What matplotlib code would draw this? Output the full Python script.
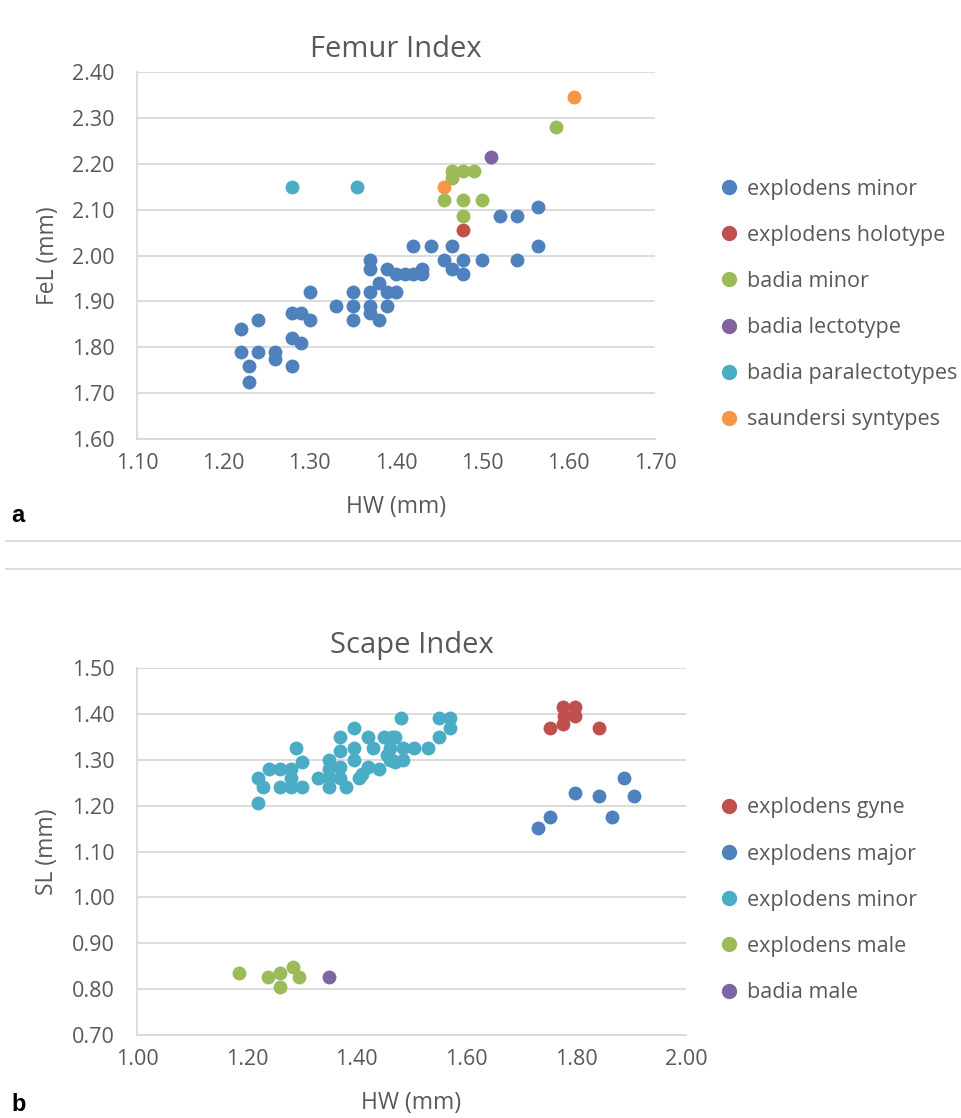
import numpy as np
import matplotlib.pyplot as plt
from matplotlib.lines import Line2D

# ---- Femur Index data (HW, FeL) ----
fem_minor_hw = [1.22, 1.24, 1.22, 1.24, 1.23, 1.23, 1.26, 1.26, 1.28, 1.28, 1.29, 1.28, 1.29, 1.30,
                1.30, 1.33, 1.35, 1.35, 1.35, 1.37, 1.37, 1.37, 1.37, 1.37, 1.38, 1.38, 1.39, 1.39,
                1.39, 1.40, 1.40, 1.41, 1.42, 1.43, 1.43, 1.42, 1.44, 1.465, 1.455, 1.477, 1.50,
                1.465, 1.477, 1.52, 1.54, 1.564, 1.564, 1.54]
fem_minor_fel = [1.84, 1.86, 1.79, 1.79, 1.76, 1.725, 1.79, 1.775, 1.76, 1.82, 1.81, 1.875, 1.875, 1.86,
                 1.92, 1.89, 1.92, 1.89, 1.86, 1.99, 1.97, 1.92, 1.89, 1.875, 1.94, 1.86, 1.97, 1.92,
                 1.89, 1.96, 1.92, 1.96, 1.96, 1.96, 1.97, 2.02, 2.02, 2.02, 1.99, 1.99, 1.99,
                 1.97, 1.96, 2.086, 2.086, 2.105, 2.02, 1.99]
fem_holo_hw = [1.477]
fem_holo_fel = [2.055]
fem_badia_hw = [1.585, 1.465, 1.477, 1.49, 1.465, 1.455, 1.477, 1.50, 1.477]
fem_badia_fel = [2.28, 2.185, 2.185, 2.185, 2.17, 2.12, 2.12, 2.12, 2.086]
fem_lecto_hw = [1.51]
fem_lecto_fel = [2.215]
fem_para_hw = [1.28, 1.355]
fem_para_fel = [2.15, 2.15]
fem_saund_hw = [1.606, 1.455]
fem_saund_fel = [2.345, 2.15]

# ---- Scape Index data (HW, SL) ----
sc_gyne_hw = [1.775, 1.798, 1.777, 1.798, 1.775, 1.752, 1.842]
sc_gyne_sl = [1.415, 1.415, 1.395, 1.395, 1.378, 1.37, 1.37]
sc_major_hw = [1.73, 1.752, 1.798, 1.842, 1.865, 1.887, 1.906]
sc_major_sl = [1.152, 1.175, 1.227, 1.22, 1.175, 1.26, 1.22]
sc_minor_hw = [1.22, 1.22, 1.23, 1.24, 1.26, 1.28, 1.26, 1.28, 1.28, 1.29, 1.30, 1.30, 1.33,
               1.35, 1.35, 1.35, 1.35, 1.37, 1.37, 1.37, 1.37, 1.38, 1.395, 1.395, 1.395, 1.405,
               1.42, 1.43, 1.42, 1.44, 1.45, 1.465, 1.465, 1.48, 1.55, 1.57, 1.57, 1.55, 1.53,
               1.505, 1.47, 1.485, 1.485, 1.47, 1.46, 1.46, 1.41, 1.455]
sc_minor_sl = [1.205, 1.26, 1.24, 1.28, 1.28, 1.28, 1.24, 1.24, 1.26, 1.325, 1.295, 1.24, 1.26,
               1.30, 1.28, 1.26, 1.24, 1.35, 1.32, 1.285, 1.26, 1.24, 1.37, 1.325, 1.30, 1.26,
               1.35, 1.325, 1.285, 1.28, 1.35, 1.35, 1.30, 1.39, 1.39, 1.39, 1.37, 1.35, 1.325,
               1.325, 1.35, 1.325, 1.30, 1.295, 1.325, 1.30, 1.27, 1.31]
sc_male_hw = [1.186, 1.238, 1.26, 1.284, 1.295, 1.26]
sc_male_sl = [0.836, 0.826, 0.836, 0.849, 0.826, 0.804]
sc_bmale_hw = [1.35]
sc_bmale_sl = [0.826]

BLUE = '#4F81BD'
RED = '#C0504D'
GREEN = '#9BBB59'
PURPLE = '#8064A2'
AQUA = '#4BACC6'
ORANGE = '#F79646'
GRID = '#D9D9D9'
TXT = '#595959'

plt.rcParams['font.family'] = ['Open Sans', 'DejaVu Sans']

fig = plt.figure(figsize=(9.61, 11.18), dpi=100)

def style_axes(ax, xlim, ylim, xticks, yticks, xlabel, ylabel, title):
    ax.set_xlim(*xlim)
    ax.set_ylim(*ylim)
    ax.set_xticks(xticks)
    ax.set_yticks(yticks)
    ax.set_xticklabels(['%.2f' % v for v in xticks], fontsize=15.5, color=TXT)
    ax.set_yticklabels(['%.2f' % v for v in yticks], fontsize=15.5, color=TXT)
    ax.tick_params(length=0)
    ax.tick_params(axis='y', pad=16)
    ax.tick_params(axis='x', pad=10)
    ax.yaxis.grid(True, color=GRID, lw=1.3)
    ax.set_axisbelow(True)
    for s in ['top', 'right']:
        ax.spines[s].set_visible(False)
    for s in ['left', 'bottom']:
        ax.spines[s].set_color(GRID)
        ax.spines[s].set_linewidth(1.3)
    ax.set_xlabel(xlabel, fontsize=16.5, color=TXT, labelpad=15)
    ax.set_ylabel(ylabel, fontsize=16.5, color=TXT, labelpad=9)
    ax.set_title(title, fontsize=21, color=TXT, pad=11)

def legend(ax, names, colors, y0):
    handles = [Line2D([], [], marker='o', ls='', color=c, markersize=10) for c in colors]
    fig.legend(handles, names, loc='upper left', bbox_to_anchor=(0.738, y0), frameon=False,
               fontsize=15.5, labelcolor=TXT, handletextpad=0.35, labelspacing=1.17,
               borderaxespad=0, handlelength=1.0)

S = 100

ax1 = fig.add_axes([0.1426, 0.6073, 0.539, 0.3283])
ax1.scatter(fem_minor_hw, fem_minor_fel, s=S, color=BLUE, lw=0, zorder=3)
ax1.scatter(fem_holo_hw, fem_holo_fel, s=S, color=RED, lw=0, zorder=3)
ax1.scatter(fem_badia_hw, fem_badia_fel, s=S, color=GREEN, lw=0, zorder=3)
ax1.scatter(fem_lecto_hw, fem_lecto_fel, s=S, color=PURPLE, lw=0, zorder=3)
ax1.scatter(fem_para_hw, fem_para_fel, s=S, color=AQUA, lw=0, zorder=3)
ax1.scatter(fem_saund_hw, fem_saund_fel, s=S, color=ORANGE, lw=0, zorder=3)
style_axes(ax1, (1.10, 1.70), (1.60, 2.40), np.arange(1.10, 1.71, 0.10),
           np.arange(1.60, 2.41, 0.10), 'HW (mm)', 'FeL (mm)', 'Femur Index')
legend(ax1, ['explodens minor', 'explodens holotype', 'badia minor', 'badia lectotype',
             'badia paralectotypes', 'saundersi syntypes'],
       [BLUE, RED, GREEN, PURPLE, AQUA, ORANGE], 0.848)

ax2 = fig.add_axes([0.1426, 0.0742, 0.5713, 0.3283])
ax2.scatter(sc_gyne_hw, sc_gyne_sl, s=S, color=RED, lw=0, zorder=3)
ax2.scatter(sc_major_hw, sc_major_sl, s=S, color=BLUE, lw=0, zorder=3)
ax2.scatter(sc_minor_hw, sc_minor_sl, s=S, color=AQUA, lw=0, zorder=3)
ax2.scatter(sc_male_hw, sc_male_sl, s=S, color=GREEN, lw=0, zorder=3)
ax2.scatter(sc_bmale_hw, sc_bmale_sl, s=S, color=PURPLE, lw=0, zorder=3)
style_axes(ax2, (1.00, 2.00), (0.70, 1.50), np.arange(1.00, 2.01, 0.20),
           np.arange(0.70, 1.51, 0.10), 'HW (mm)', 'SL (mm)', 'Scape Index')
legend(ax2, ['explodens gyne', 'explodens major', 'explodens minor', 'explodens male', 'badia male'],
       [RED, BLUE, AQUA, GREEN, PURPLE], 0.2945)

# separators and panel letters
for yy in [1 - 541 / 1118, 1 - 569 / 1118]:
    fig.add_artist(Line2D([0.006, 1.0], [yy, yy], color=GRID, lw=1.3))
fig.text(0.012, 1 - 515 / 1118, 'a', fontsize=17, fontweight='bold', color='black',
         family='Liberation Sans', va='center')
fig.text(0.012, 1 - 1116 / 1118, 'b', fontsize=17, fontweight='bold', color='black',
         family='Liberation Sans', va='bottom')

fig.savefig('out.png', dpi=100, facecolor='white')
